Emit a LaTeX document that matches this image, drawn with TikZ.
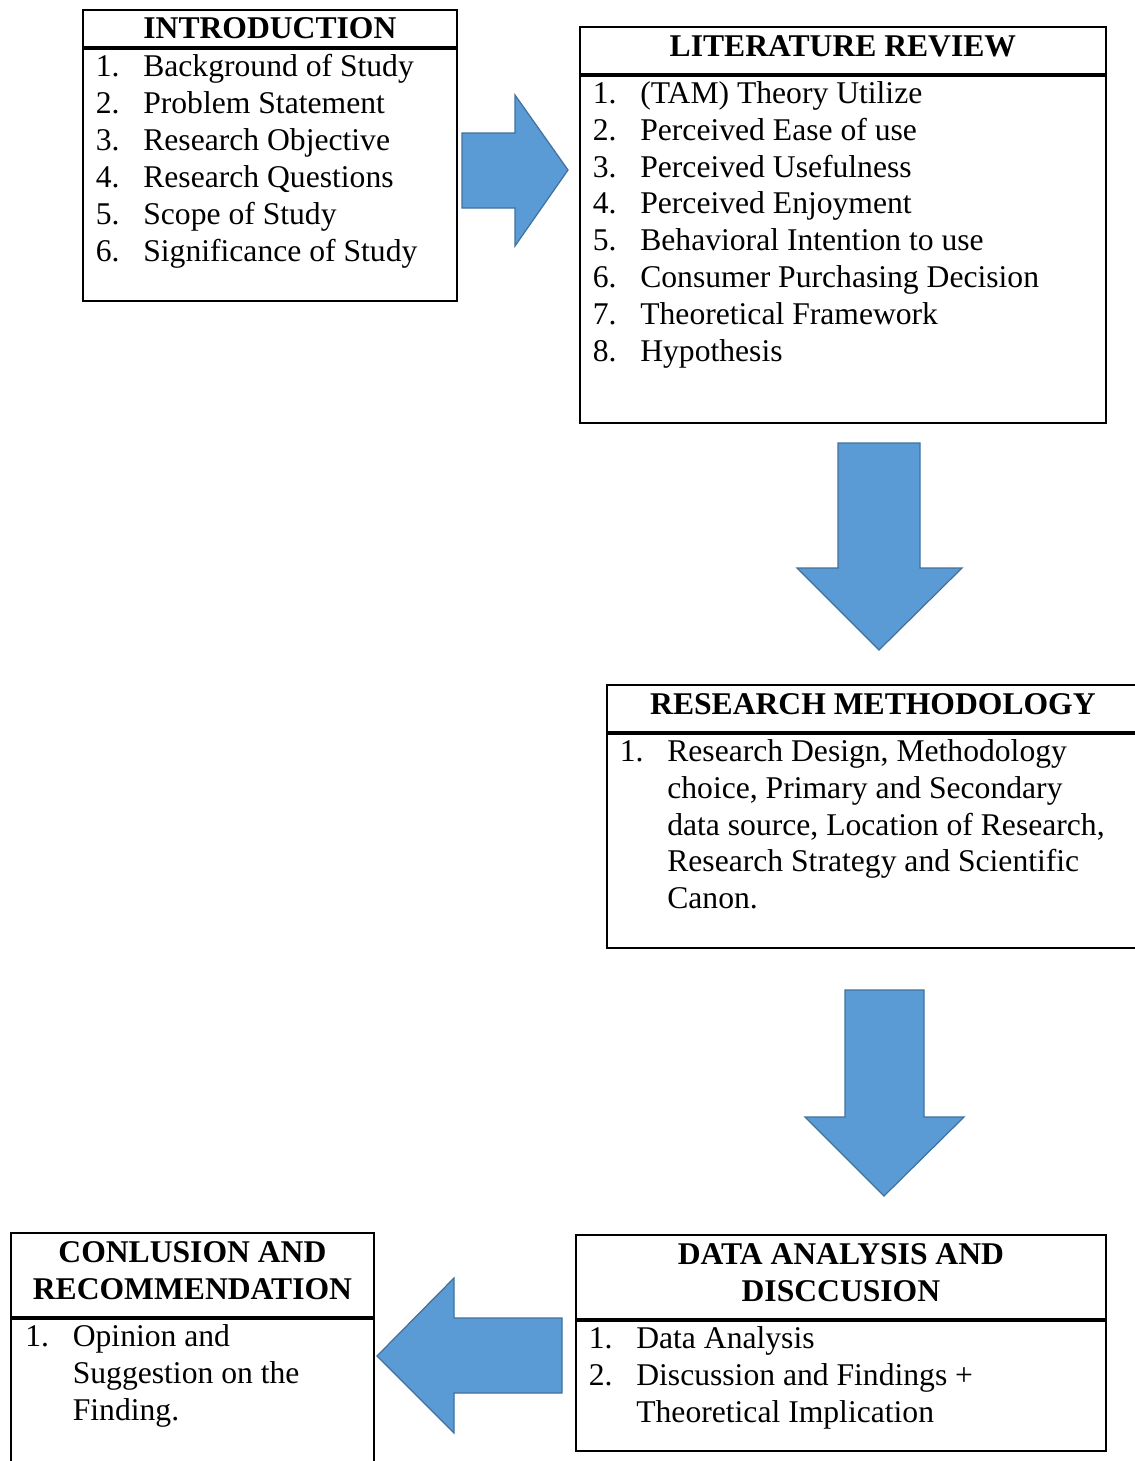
\documentclass[tikz,border=0pt]{standalone}
\usepackage{fontspec}
\setmainfont{Liberation Serif}
\usetikzlibrary{positioning}
\definecolor{arrowblue}{HTML}{5B9BD5}
\definecolor{arrowedge}{HTML}{41719C}
\newcommand{\itemno}[1]{\makebox[0.95cm][l]{#1}}
\newcommand{\itemgap}{\hspace*{0.95cm}}

\begin{document}
\begin{tikzpicture}[
    x=0.02cm, y=-0.02cm,
    every node/.style={font=\fontsize{18}{21}\selectfont},
    header/.style={draw, line width=1.1pt, inner sep=0pt, anchor=north west, align=center, text depth=0.16cm, font=\fontsize{18}{21}\selectfont\bfseries},
    frame/.style={draw, line width=1.1pt, inner sep=0pt},
    items/.style={inner sep=0pt, anchor=north west, align=left},
    bigarrow/.style={fill=arrowblue, draw=arrowedge, line width=0.7pt, line join=miter}
]
\path[use as bounding box, fill=white] (0,0) rectangle (1134,1461);

\node[header, minimum width=7.48cm, minimum height=0.74cm, text depth=0pt] (intro_head) at (82,9) {INTRODUCTION};
\node[frame, below=0pt of intro_head, minimum width=7.48cm, minimum height=5.04cm] (intro_body) {};
\node[items] (intro_list) at ([xshift=0.27cm, yshift=-0.12cm]intro_body.north west) {\itemno{1.}Background of Study\\ \itemno{2.}Problem Statement\\ \itemno{3.}Research Objective\\ \itemno{4.}Research Questions\\ \itemno{5.}Scope of Study\\ \itemno{6.}Significance of Study};

\node[header, minimum width=10.52cm, minimum height=0.94cm] (lit_head) at (579,26) {LITERATURE REVIEW};
\node[frame, below=0pt of lit_head, minimum width=10.52cm, minimum height=6.94cm] (lit_body) {};
\node[items] (lit_list) at ([xshift=0.27cm, yshift=-0.12cm]lit_body.north west) {\itemno{1.}(TAM) Theory Utilize\\ \itemno{2.}Perceived Ease of use\\ \itemno{3.}Perceived Usefulness\\ \itemno{4.}Perceived Enjoyment\\ \itemno{5.}Behavioral Intention to use\\ \itemno{6.}Consumer Purchasing Decision\\ \itemno{7.}Theoretical Framework\\ \itemno{8.}Hypothesis};

\node[header, minimum width=10.64cm, minimum height=0.94cm] (method_head) at (606,684) {RESEARCH METHODOLOGY};
\node[frame, below=0pt of method_head, minimum width=10.64cm, minimum height=4.28cm] (method_body) {};
\node[items] (method_list) at ([xshift=0.27cm, yshift=-0.12cm]method_body.north west) {\itemno{1.}Research Design, Methodology\\ \itemgap choice, Primary and Secondary\\ \itemgap data source, Location of Research,\\ \itemgap Research Strategy and Scientific\\ \itemgap Canon.};

\node[header, minimum width=10.6cm, minimum height=1.68cm] (data_head) at (575,1234) {DATA ANALYSIS AND\\DISCCUSION};
\node[frame, below=0pt of data_head, minimum width=10.6cm, minimum height=2.6cm] (data_body) {};
\node[items] (data_list) at ([xshift=0.27cm, yshift=-0.12cm]data_body.north west) {\itemno{1.}Data Analysis\\ \itemno{2.}Discussion and Findings +\\ \itemgap Theoretical Implication};

\node[header, minimum width=7.26cm, minimum height=1.68cm] (concl_head) at (10,1232) {CONLUSION AND\\RECOMMENDATION};
\node[frame, below=0pt of concl_head, minimum width=7.26cm, minimum height=3.2cm] (concl_body) {};
\node[items] (concl_list) at ([xshift=0.3cm, yshift=-0.12cm]concl_body.north west) {\itemno{1.}Opinion and\\ \itemgap Suggestion on the\\ \itemgap Finding.};

\draw[bigarrow] (462,133) -- (515,133) -- (515,95) -- (568,170) -- (515,246) -- (515,208) -- (462,208) -- cycle;
\draw[bigarrow] (838,443) -- (920,443) -- (920,568) -- (962,568) -- (879,650) -- (797,568) -- (838,568) -- cycle;
\draw[bigarrow] (845,990) -- (924,990) -- (924,1117) -- (964,1117) -- (884,1196) -- (805,1117) -- (845,1117) -- cycle;
\draw[bigarrow] (562,1318) -- (454,1318) -- (454,1278) -- (377,1356) -- (454,1433) -- (454,1393) -- (562,1393) -- cycle;

\end{tikzpicture}
\end{document}
